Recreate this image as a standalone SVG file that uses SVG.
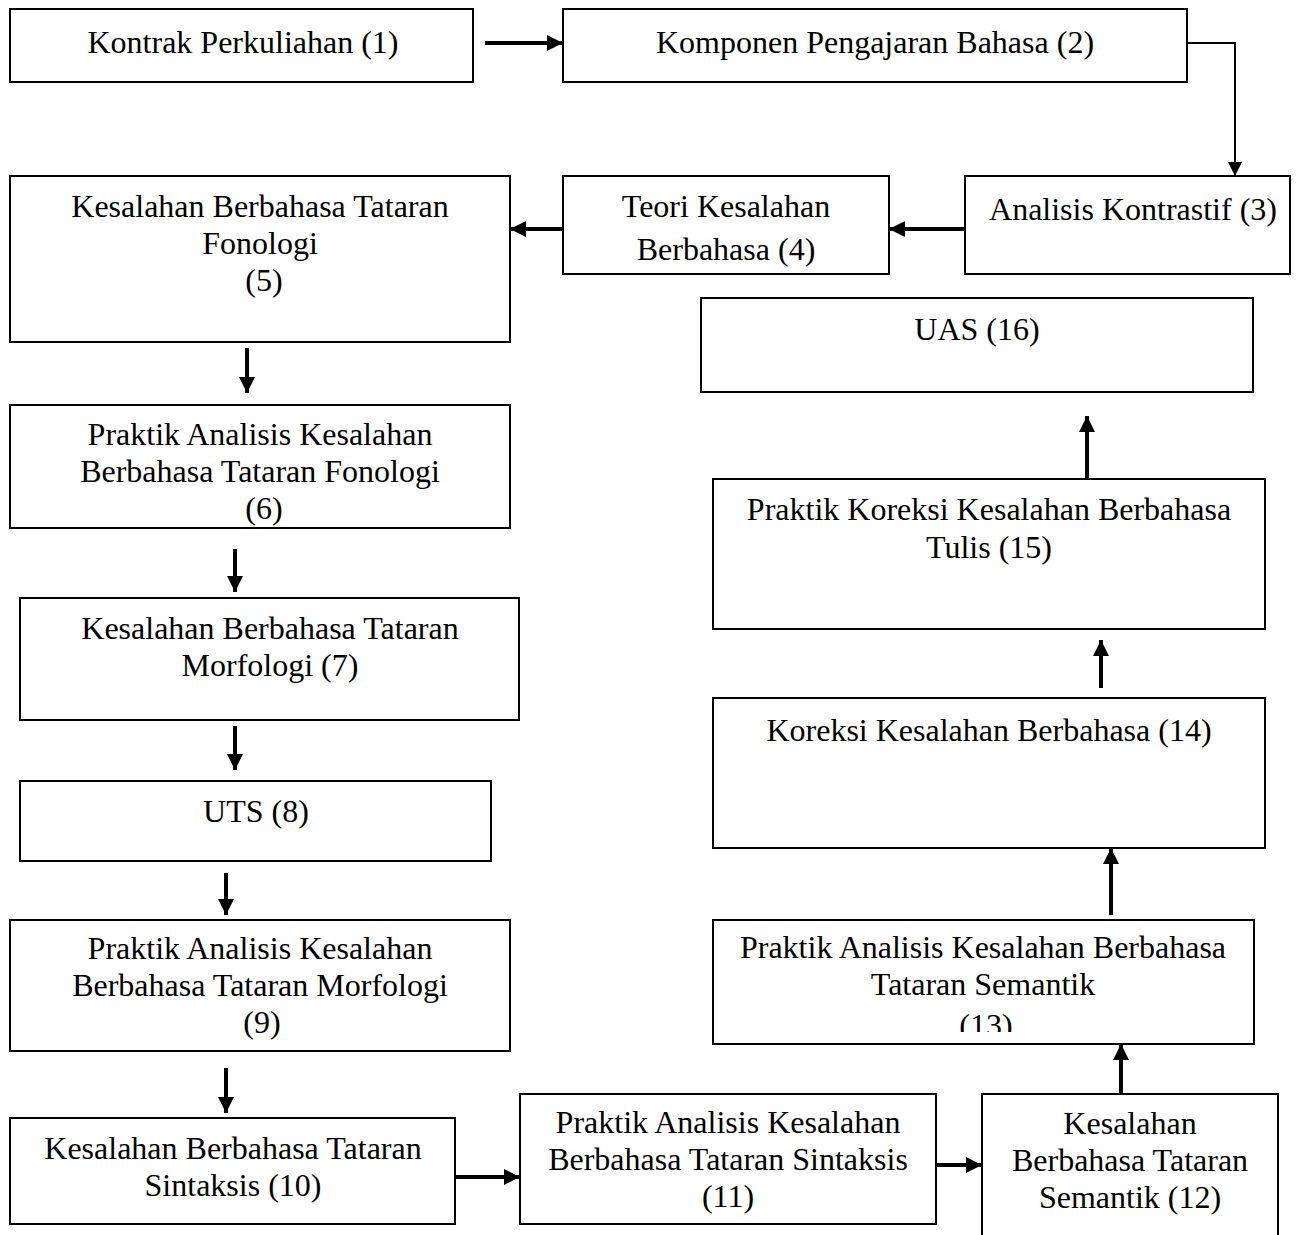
<svg xmlns="http://www.w3.org/2000/svg" width="1304" height="1235" viewBox="0 0 1304 1235">
<style>
.b{fill:#fff;stroke:#000;stroke-width:2}
.t{font-family:"Liberation Serif","Times New Roman",serif;font-size:32px;fill:#000;text-anchor:middle}
.c{stroke:#000;stroke-width:4;fill:none}
.c2{stroke:#000;stroke-width:2;fill:none}
</style>
<defs>
<marker id="a" viewBox="0 0 10 10" refX="10" refY="5" markerWidth="4" markerHeight="4" orient="auto" markerUnits="strokeWidth"><path d="M0,0L10,5L0,10z" fill="#000"/></marker>
<marker id="a2" viewBox="0 0 10 10" refX="10" refY="5" markerWidth="7" markerHeight="7" orient="auto" markerUnits="strokeWidth"><path d="M0,0L10,5L0,10z" fill="#000"/></marker>
<clipPath id="cl13"><rect x="713" y="920" width="541" height="112"/></clipPath>
</defs>
<rect width="1304" height="1235" fill="#fff"/>
<g id="n1"><rect class="b" x="10" y="9" width="463" height="73"/><text class="t" x="243" y="53">Kontrak Perkuliahan (1)</text></g>
<g id="n2"><rect class="b" x="563" y="9" width="624" height="73"/><text class="t" x="875" y="53">Komponen Pengajaran Bahasa (2)</text></g>
<g id="n3"><rect class="b" x="965" y="176" width="325" height="98"/><text class="t" x="1133" y="220">Analisis Kontrastif (3)</text></g>
<g id="n4"><rect class="b" x="563" y="176" width="326" height="98"/><text class="t" x="726" y="217">Teori Kesalahan</text><text class="t" x="726" y="260">Berbahasa (4)</text></g>
<g id="n5"><rect class="b" x="10" y="176" width="500" height="166"/><text class="t" x="260" y="217">Kesalahan Berbahasa Tataran</text><text class="t" x="260" y="254">Fonologi</text><text class="t" x="264" y="291">(5)</text></g>
<g id="n6"><rect class="b" x="10" y="405" width="500" height="123"/><text class="t" x="260" y="445">Praktik Analisis Kesalahan</text><text class="t" x="260" y="482">Berbahasa Tataran Fonologi</text><text class="t" x="264" y="519">(6)</text></g>
<g id="n7"><rect class="b" x="20" y="598" width="499" height="122"/><text class="t" x="270" y="639">Kesalahan Berbahasa Tataran</text><text class="t" x="270" y="676">Morfologi (7)</text></g>
<g id="n8"><rect class="b" x="20" y="781" width="471" height="80"/><text class="t" x="256" y="822">UTS (8)</text></g>
<g id="n9"><rect class="b" x="10" y="920" width="500" height="131"/><text class="t" x="260" y="959">Praktik Analisis Kesalahan</text><text class="t" x="260" y="996">Berbahasa Tataran Morfologi</text><text class="t" x="262" y="1033">(9)</text></g>
<g id="n10"><rect class="b" x="10" y="1118" width="445" height="106"/><text class="t" x="233" y="1159">Kesalahan Berbahasa Tataran</text><text class="t" x="233" y="1196">Sintaksis (10)</text></g>
<g id="n11"><rect class="b" x="520" y="1094" width="416" height="130"/><text class="t" x="728" y="1133">Praktik Analisis Kesalahan</text><text class="t" x="728" y="1170">Berbahasa Tataran Sintaksis</text><text class="t" x="728" y="1207">(11)</text></g>
<g id="n12"><rect class="b" x="982" y="1094" width="296" height="160"/><text class="t" x="1130" y="1134">Kesalahan</text><text class="t" x="1130" y="1171">Berbahasa Tataran</text><text class="t" x="1130" y="1208">Semantik (12)</text></g>
<g id="n13"><rect class="b" x="713" y="920" width="541" height="124"/><text class="t" x="983" y="958">Praktik Analisis Kesalahan Berbahasa</text><text class="t" x="983" y="995">Tataran Semantik</text><g clip-path="url(#cl13)"><text class="t" x="986" y="1036">(13)</text></g></g>
<g id="n14"><rect class="b" x="713" y="698" width="552" height="150"/><text class="t" x="989" y="741">Koreksi Kesalahan Berbahasa (14)</text></g>
<g id="n15"><rect class="b" x="713" y="479" width="552" height="150"/><text class="t" x="989" y="520">Praktik Koreksi Kesalahan Berbahasa</text><text class="t" x="989" y="558">Tulis (15)</text></g>
<g id="n16"><rect class="b" x="701" y="298" width="552" height="94"/><text class="t" x="977" y="340">UAS (16)</text></g>
<g id="connectors">
<path class="c" d="M485,43H563" marker-end="url(#a)"/>
<path class="c2" d="M1187,43H1235V176" marker-end="url(#a2)"/>
<path class="c" d="M965,229H889" marker-end="url(#a)"/>
<path class="c" d="M563,229H510" marker-end="url(#a)"/>
<path class="c" d="M247,348V393" marker-end="url(#a)"/>
<path class="c" d="M235,549V592" marker-end="url(#a)"/>
<path class="c" d="M235,726V770" marker-end="url(#a)"/>
<path class="c" d="M226,873V915" marker-end="url(#a)"/>
<path class="c" d="M226,1068V1113" marker-end="url(#a)"/>
<path class="c" d="M455,1177H520" marker-end="url(#a)"/>
<path class="c" d="M936,1165H982" marker-end="url(#a)"/>
<path class="c" d="M1121,1094V1044" marker-end="url(#a)"/>
<path class="c" d="M1111,915V848" marker-end="url(#a)"/>
<path class="c" d="M1101,688V640" marker-end="url(#a)"/>
<path class="c" d="M1087,478V416" marker-end="url(#a)"/>
</g>
</svg>
